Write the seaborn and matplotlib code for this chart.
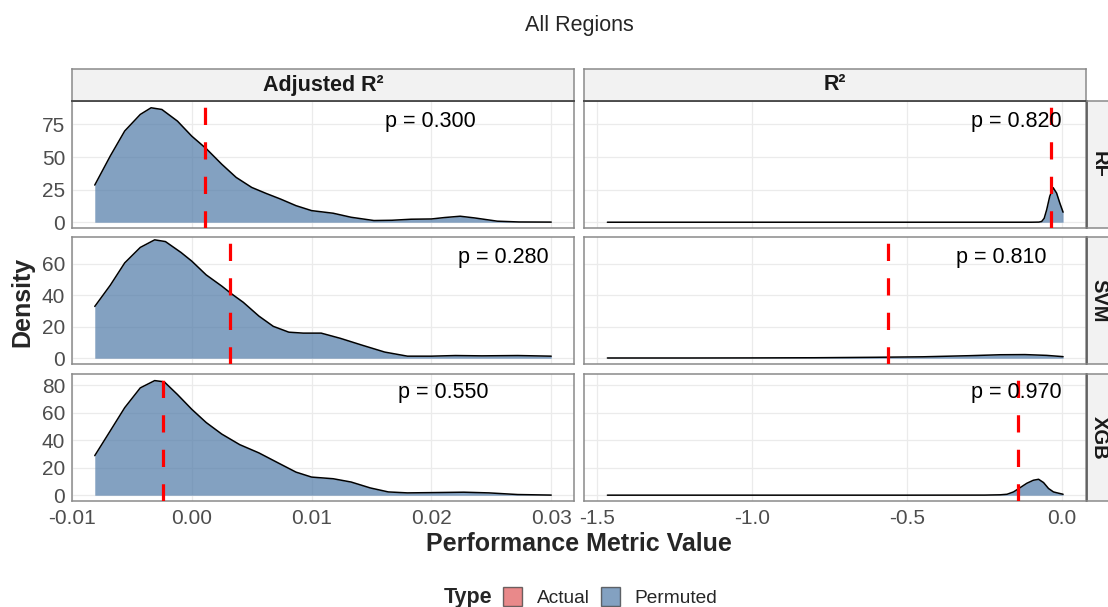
import numpy as np
import pandas as pd
import matplotlib
matplotlib.use("Agg")
import matplotlib.pyplot as plt
import seaborn as sns
from matplotlib.patches import Patch

# ---------------- data ----------------
models = ["RF", "SVM", "XGB"]
metrics = ["Adjusted R²", "R²"]

# permuted-score density curves: Adjusted R²
rf_adj_x = [-0.0081, -0.0068, -0.0056, -0.0043, -0.0034, -0.0025, -0.0012, 0.0000, 0.0012, 0.0025,
            0.0037, 0.0050, 0.0062, 0.0074, 0.0087, 0.0100, 0.0118, 0.0133, 0.0152, 0.0167,
            0.0183, 0.0200, 0.0211, 0.0224, 0.0236, 0.0255, 0.0273, 0.0300]
rf_adj_d = [28.5, 50.9, 70.0, 82.7, 87.8, 86.5, 77.6, 66.0, 56.5, 44.5,
            34.4, 26.7, 22.1, 17.8, 12.7, 8.9, 6.9, 3.8, 1.3, 1.5,
            2.3, 2.5, 3.6, 4.6, 3.3, 0.8, 0.2, 0.1]

svm_adj_x = [-0.0081, -0.0068, -0.0056, -0.0043, -0.0031, -0.0022, -0.0009, 0.0000, 0.0012, 0.0025,
             0.0033, 0.0043, 0.0056, 0.0068, 0.0081, 0.0093, 0.0108, 0.0124, 0.0142, 0.0161,
             0.0180, 0.0200, 0.0220, 0.0242, 0.0272, 0.0300]
svm_adj_d = [32.8, 46.3, 60.4, 70.2, 75.0, 73.9, 67.0, 61.5, 52.8, 45.7,
             40.9, 35.4, 26.7, 20.2, 16.5, 15.9, 15.9, 12.6, 8.3, 3.9,
             1.3, 1.3, 1.7, 1.5, 1.7, 1.3]

xgb_adj_x = [-0.0081, -0.0068, -0.0056, -0.0043, -0.0031, -0.0023, -0.0012, 0.0000, 0.0012, 0.0025,
             0.0040, 0.0056, 0.0071, 0.0087, 0.0100, 0.0118, 0.0133, 0.0149, 0.0164, 0.0180,
             0.0200, 0.0227, 0.0248, 0.0272, 0.0300]
xgb_adj_d = [28.8, 46.9, 63.7, 78.1, 83.4, 82.5, 73.3, 62.5, 52.9, 44.5,
             36.8, 30.8, 24.0, 16.8, 13.2, 12.0, 9.6, 5.3, 2.4, 1.7,
             1.9, 2.2, 1.7, 0.5, 0.1]

# permuted-score density curves: R²
rf_r2_x = [-1.468, -0.5, -0.1, -0.075, -0.066, -0.058, -0.050, -0.040, -0.029, -0.018, -0.0075, 0.003]
rf_r2_d = [0.0, 0.0, 0.0, 0.1, 0.6, 3.0, 9.5, 19.9, 26.5, 22.4, 14.7, 7.7]

svm_r2_x = [-1.468, -1.2, -1.0, -0.8, -0.6, -0.45, -0.3, -0.2, -0.12, -0.05, 0.003]
svm_r2_d = [0.15, 0.15, 0.2, 0.3, 0.6, 0.9, 1.6, 2.2, 2.3, 1.8, 1.0]

xgb_r2_x = [-1.468, -1.0, -0.5, -0.25, -0.20, -0.178, -0.157, -0.135, -0.114, -0.093,
            -0.076, -0.060, -0.044, -0.028, -0.012, 0.003]
xgb_r2_d = [0.05, 0.05, 0.05, 0.1, 0.3, 0.7, 2.4, 5.6, 8.7, 10.9,
            11.6, 9.2, 4.9, 2.4, 1.5, 0.7]

# actual (observed) scores and permutation p-values
actual_adj = [0.0011, 0.0032, -0.0024]
actual_r2 = [-0.0355, -0.563, -0.144]
p_adj = [0.300, 0.280, 0.550]
p_r2 = [0.820, 0.810, 0.970]

# axis ticks
adj_ticks = [-0.01, 0.00, 0.01, 0.02, 0.03]
adj_tick_labels = ["-0.01", "0.00", "0.01", "0.02", "0.03"]
r2_ticks = [-1.5, -1.0, -0.5, 0.0]
r2_tick_labels = ["-1.5", "-1.0", "-0.5", "0.0"]
density_ticks = [[0, 25, 50, 75], [0, 20, 40, 60], [0, 20, 40, 60, 80]]

legend_labels = ["Actual", "Permuted"]

# ---------------- build long table ----------------
curves = {
    ("RF", "Adjusted R²"): (rf_adj_x, rf_adj_d),
    ("SVM", "Adjusted R²"): (svm_adj_x, svm_adj_d),
    ("XGB", "Adjusted R²"): (xgb_adj_x, xgb_adj_d),
    ("RF", "R²"): (rf_r2_x, rf_r2_d),
    ("SVM", "R²"): (svm_r2_x, svm_r2_d),
    ("XGB", "R²"): (xgb_r2_x, xgb_r2_d),
}
frames = []
for (m, met), (xs, ds) in curves.items():
    frames.append(pd.DataFrame({"Model": m, "Metric": met, "x": xs, "density": ds}))
df = pd.concat(frames, ignore_index=True)

# ---------------- style ----------------
sns.set_theme(style="white")
plt.rcParams["font.family"] = ["Liberation Sans", "DejaVu Sans"]

COL_ACTUAL = "#E15759"
COL_PERM = "#4E79A7"
W, H = 1108, 607

fig = plt.figure(figsize=(W / 100, H / 100), dpi=100)

col_left = [72, 584]
col_width = 502
row_top = [101, 237, 374]
row_h = 127

xlims = [(-0.0100, 0.0319), (-1.5435, 0.0770)]
ylims = [(-4.43, 93.0), (-3.66, 76.8), (-4.2, 88.2)]
label_x = [[0.0199, 0.0260, 0.0210], [-0.148, -0.197, -0.148]]
label_y = [77.5, 64.0, 75.0]

def fig_rect(x, y_top, w, h):
    return [x / W, (H - y_top - h) / H, w / W, h / H]

for r, model in enumerate(models):
    for c, met in enumerate(metrics):
        ax = fig.add_axes(fig_rect(col_left[c], row_top[r], col_width, row_h))
        sub = df[(df["Model"] == model) & (df["Metric"] == met)]
        ax.fill_between(sub["x"], 0, sub["density"], color=COL_PERM, alpha=0.7, lw=0, zorder=2)
        sns.lineplot(data=sub, x="x", y="density", color="black", lw=1.1, ax=ax,
                     sort=False, estimator=None, zorder=3)
        actual = actual_adj[r] if c == 0 else actual_r2[r]
        ax.axvline(actual, color="#FF0000", lw=2.3, linestyle=(0, (5.4, 5.4)), zorder=4)
        pv = p_adj[r] if c == 0 else p_r2[r]
        ax.text(label_x[c][r], label_y[r], f"p = {pv:.3f}", ha="center", va="center",
                fontsize=15.5, color="black", zorder=5)
        ax.set_xlim(*xlims[c])
        ax.set_ylim(*ylims[r])
        ax.set_xticks(adj_ticks if c == 0 else r2_ticks)
        ax.set_yticks(density_ticks[r])
        ax.set_xlabel("")
        ax.set_ylabel("")
        ax.grid(True, color="#ebebeb", lw=0.9, zorder=0)
        ax.set_axisbelow(True)
        if r == 2:
            ax.set_xticklabels(adj_tick_labels if c == 0 else r2_tick_labels)
        else:
            ax.set_xticklabels([])
        if c == 0:
            ax.set_yticklabels([str(t) for t in density_ticks[r]])
        else:
            ax.set_yticklabels([])
        ax.tick_params(axis="both", length=0, labelsize=15, labelcolor="#4d4d4d")
        ax.tick_params(axis="x", pad=6)
        ax.tick_params(axis="y", pad=5)
        for s in ax.spines.values():
            s.set_color("#8a8a8a")
            s.set_linewidth(1.1)

# column strips
for c, met in enumerate(metrics):
    sax = fig.add_axes(fig_rect(col_left[c], 69, col_width, 32))
    sax.set_facecolor("#f2f2f2")
    sax.set_xticks([]); sax.set_yticks([])
    for s in sax.spines.values():
        s.set_color("#8a8a8a"); s.set_linewidth(1.1)
    sax.spines["bottom"].set_color("#444444")
    sax.spines["bottom"].set_linewidth(1.3)
    sax.text(0.5, 0.5, met, transform=sax.transAxes, ha="center", va="center",
             fontsize=15.5, fontweight="bold", color="#1a1a1a")

# row strips (at the right edge)
for r, model in enumerate(models):
    sax = fig.add_axes(fig_rect(1087, row_top[r], 30, row_h))
    sax.set_facecolor("#f2f2f2")
    sax.set_xticks([]); sax.set_yticks([])
    for s in sax.spines.values():
        s.set_color("#8a8a8a"); s.set_linewidth(1.1)
    sax.spines["left"].set_color("#555555")
    sax.spines["left"].set_linewidth(1.2)
    fig.text(1099 / W, 1 - (row_top[r] + row_h / 2) / H, model, ha="center", va="center",
             rotation=-90, fontsize=14.5, fontweight="bold", color="#1a1a1a")

# titles
fig.text(579 / W, 1 - 26 / H, "All Regions", ha="center", va="center", fontsize=15.5)
fig.text(579 / W, 1 - 544 / H, "Performance Metric Value", ha="center", va="center",
         fontsize=18, fontweight="bold")
fig.text(22 / W, 1 - 302 / H, "Density", ha="center", va="center", rotation=90,
         fontsize=18, fontweight="bold")

# legend
handles = [Patch(facecolor=COL_ACTUAL, alpha=0.7, edgecolor="#333333", lw=1.0),
           Patch(facecolor=COL_PERM, alpha=0.7, edgecolor="#333333", lw=1.0)]
fig.legend(handles, legend_labels, ncol=2, loc="center left",
           bbox_to_anchor=(503 / W, 1 - 597 / H), frameon=False, fontsize=13.8,
           handlelength=1.0, handleheight=1.15, handletextpad=0.75, columnspacing=0.6,
           borderpad=0, borderaxespad=0)
fig.text(492 / W, 1 - 597 / H, "Type", ha="right", va="center", fontsize=15.5,
         fontweight="bold")

fig.savefig("out.png", dpi=100)
